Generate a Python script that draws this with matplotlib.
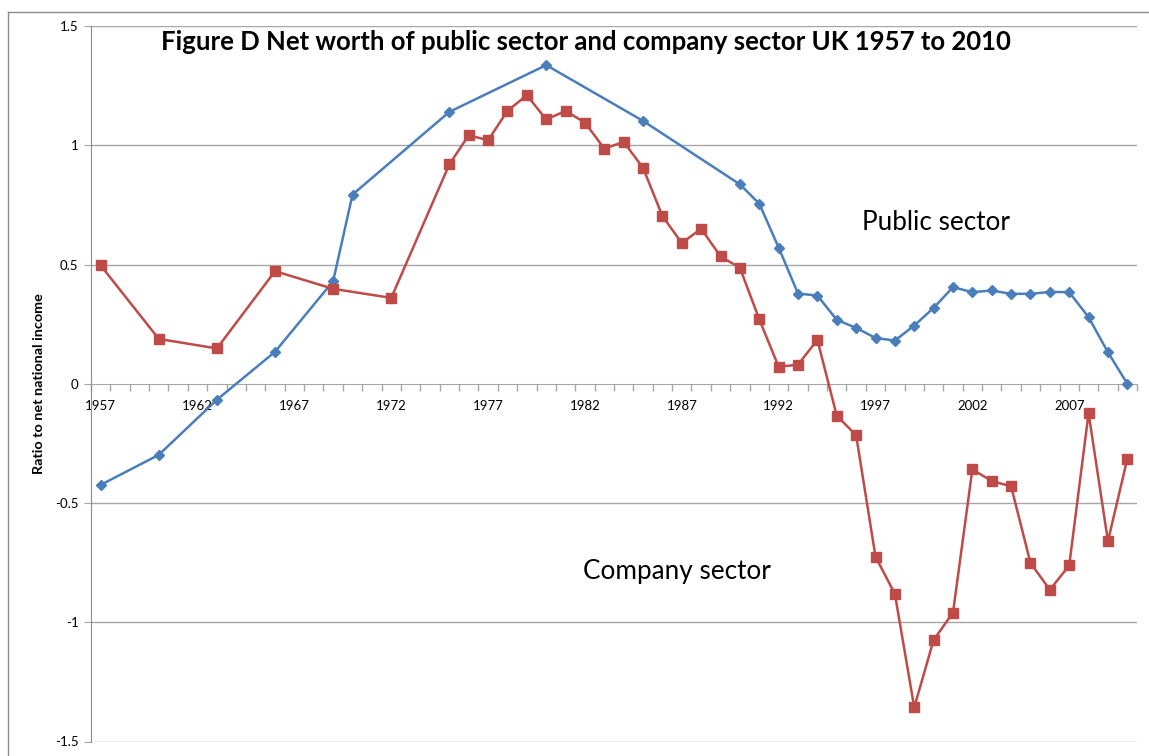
"""Figure D: net worth of public sector and company sector, UK 1957 to 2010."""

import numpy as np
import matplotlib
matplotlib.use("Agg")
import matplotlib.pyplot as plt
from matplotlib.lines import Line2D

plt.rcParams["font.family"] = ["Lato", "DejaVu Sans"]

# ratio to net national income
public_years = [1957, 1960, 1963, 1966, 1969, 1970, 1975, 1980, 1985, 1990, 1991,
                1992, 1993, 1994, 1995, 1996, 1997, 1998, 1999, 2000, 2001, 2002,
                2003, 2004, 2005, 2006, 2007, 2008, 2009, 2010]
public_vals = [-0.424, -0.298, -0.067, 0.134, 0.43, 0.793, 1.14, 1.336, 1.102, 0.836, 0.755,
               0.571, 0.378, 0.37, 0.268, 0.234, 0.192, 0.181, 0.244, 0.318, 0.405, 0.384,
               0.391, 0.377, 0.377, 0.385, 0.384, 0.279, 0.132, 0.0]

company_years = [1957, 1960, 1963, 1966, 1969, 1972, 1975, 1976, 1977, 1978, 1979,
                 1980, 1981, 1982, 1983, 1984, 1985, 1986, 1987, 1988, 1989, 1990,
                 1991, 1992, 1993, 1994, 1995, 1996, 1997, 1998, 1999, 2000, 2001,
                 2002, 2003, 2004, 2005, 2006, 2007, 2008, 2009, 2010]
company_vals = [0.496, 0.188, 0.148, 0.472, 0.398, 0.36, 0.92, 1.042, 1.021, 1.144, 1.21,
                1.108, 1.144, 1.095, 0.986, 1.014, 0.905, 0.703, 0.59, 0.65, 0.534, 0.486,
                0.27, 0.071, 0.08, 0.184, -0.134, -0.216, -0.725, -0.881, -1.357, -1.074, -0.96,
                -0.359, -0.408, -0.43, -0.751, -0.864, -0.762, -0.123, -0.66, -0.315]

first_year, last_year = 1957, 2010
label_years = list(range(1957, 2010, 5))
y_ticks = [-1.5, -1, -0.5, 0, 0.5, 1, 1.5]

BLUE = "#4A7EBB"
RED = "#BE4B48"
GRID = "#A6A6A6"

W, H = 1149, 756
fig = plt.figure(figsize=(W / 100, H / 100), dpi=100)
ax = fig.add_axes([91 / W, (H - 741.5) / H, (1137 - 91) / W, (741.5 - 26) / H])

# chart-area border (only left and top edges fall inside the picture)
fig.add_artist(Line2D([8 / W, 8 / W], [0, (H - 12) / H], color="#8c8c8c", lw=1.0,
                      transform=fig.transFigure))
fig.add_artist(Line2D([8 / W, 1], [(H - 12) / H, (H - 12) / H], color="#8c8c8c", lw=1.0,
                      transform=fig.transFigure))

ax.set_xlim(first_year - 0.5, last_year + 0.5)
ax.set_ylim(-1.5, 1.5)

for y in y_ticks:
    if y != 0:
        ax.axhline(y, color=GRID, lw=1.0, zorder=1)

ax.plot(public_years, public_vals, color=BLUE, lw=1.8, marker="D", ms=5,
        mec=BLUE, mfc=BLUE, zorder=3)
ax.plot(company_years, company_vals, color=RED, lw=1.8, marker="s", ms=7,
        mec=RED, mfc=RED, zorder=3)

for s in ["top", "right"]:
    ax.spines[s].set_visible(False)
ax.spines["bottom"].set_position(("data", 0))
ax.spines["bottom"].set_color(GRID)
ax.spines["left"].set_color("#8c8c8c")

# category boundaries as tick marks, year labels in the middle of the slots
ax.set_xticks(np.arange(first_year - 0.5, last_year + 1.0, 1.0))
ax.set_xticklabels([])
ax.tick_params(axis="x", which="major", direction="out", length=5, color=GRID, width=1)
ax.set_xticks(label_years, minor=True)
ax.set_xticklabels([str(y) for y in label_years], minor=True)
ax.tick_params(axis="x", which="minor", length=0, pad=12, labelsize=9.5)

ax.set_yticks(y_ticks)
ax.set_yticklabels(["-1.5", "-1", "-0.5", "0", "0.5", "1", "1.5"])
ax.tick_params(axis="y", direction="out", length=5, color=GRID, labelsize=9.5, pad=4)

ax.set_ylabel("Ratio to net national income", fontsize=10.4, fontweight="bold")
ax.yaxis.set_label_coords(-46 / 1046, 0.5)

ax.text(0.473, 0.977, "Figure D Net worth of public sector and company sector UK 1957 to 2010",
        transform=ax.transAxes, ha="center", va="center", fontsize=18.5, fontweight="bold")
ax.text(0.808, 0.726, "Public sector", transform=ax.transAxes, ha="center", va="center",
        fontsize=18.8)
ax.text(0.560, 0.238, "Company sector", transform=ax.transAxes, ha="center", va="center",
        fontsize=18.8)

fig.savefig("out.png", dpi=100)
